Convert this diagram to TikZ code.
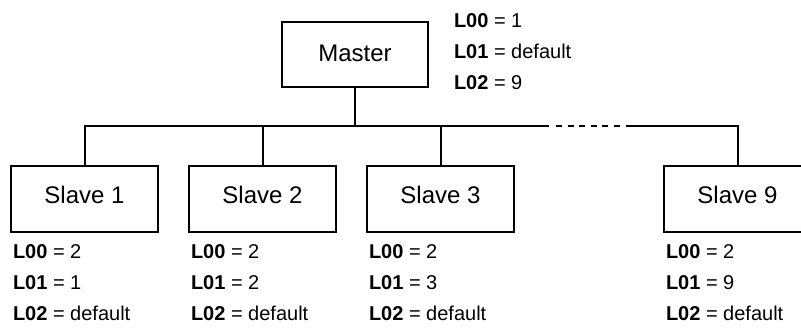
\documentclass[tikz,border=0pt]{standalone}
\usepackage{fontspec}
\setmainfont{Liberation Sans}
\begin{document}
\begin{tikzpicture}[x=1pt,y=-1pt,
  line width=2pt,
  unitbox/.style={draw, rectangle, line width=2pt, inner sep=0pt, minimum width=147pt,
    text height=37pt, text depth=29pt, font=\fontsize{24}{28}\selectfont},
  masterbox/.style={unitbox, minimum width=146pt, text height=39pt, text depth=26pt},
  lbl/.style={anchor=base west, inner sep=0pt, font=\fontsize{20}{24}\selectfont},
  bus/.style={line width=2pt},
  busdash/.style={line width=2pt, dash pattern=on 6pt off 5.5pt}
]
\clip (0,0) rectangle (801,327);
% boxes
\node[masterbox] (m) at (355,21) [anchor=north] {Master};
\node[unitbox] (s1) at (84.5,165) [anchor=north] {Slave 1};
\node[unitbox] (s2) at (262.5,165) [anchor=north] {Slave 2};
\node[unitbox] (s3) at (440.5,165) [anchor=north] {Slave 3};
\node[unitbox] (s9) at (737.5,165) [anchor=north] {Slave 9};
% bus coordinates
\coordinate (busL) at (84.5,125.5);
\coordinate (solidA) at (549,125.5);
\coordinate (dashA) at (556,125.5);
\coordinate (dashB) at (619.5,125.5);
\coordinate (solidB) at (626,125.5);
\coordinate (busR) at (737.5,125.5);
% bus
\draw[bus] (s1.north) -- (busL) -- (solidA);
\draw[busdash] (dashA) -- (dashB);
\draw[bus] (solidB) -- (busR) -- (s9.north);
\draw[bus] (m.south) -- (m.south |- busL);
\draw[bus] (s2.north) -- (s2.north |- busL);
\draw[bus] (s3.north) -- (s3.north |- busL);
% master labels
\node[lbl] (m0) at (453,27) {\textbf{L00} = 1};
\node[lbl] (m1) at (453,58) {\textbf{L01} = default};
\node[lbl] (m2) at (453,89) {\textbf{L02} = 9};
% slave labels
\node[lbl] (a0) at (12,258) {\textbf{L00} = 2};
\node[lbl] (a1) at (12,289) {\textbf{L01} = 1};
\node[lbl] (a2) at (12,320) {\textbf{L02} = default};
\node[lbl] (b0) at (190,258) {\textbf{L00} = 2};
\node[lbl] (b1) at (190,289) {\textbf{L01} = 2};
\node[lbl] (b2) at (190,320) {\textbf{L02} = default};
\node[lbl] (c0) at (368,258) {\textbf{L00} = 2};
\node[lbl] (c1) at (368,289) {\textbf{L01} = 3};
\node[lbl] (c2) at (368,320) {\textbf{L02} = default};
\node[lbl] (d0) at (665,258) {\textbf{L00} = 2};
\node[lbl] (d1) at (665,289) {\textbf{L01} = 9};
\node[lbl] (d2) at (665,320) {\textbf{L02} = default};
\end{tikzpicture}
\end{document}
